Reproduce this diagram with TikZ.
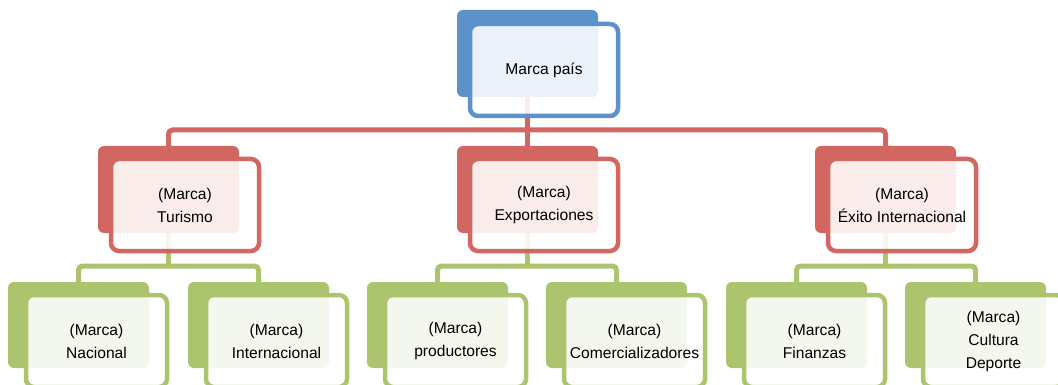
\documentclass[tikz,border=0pt]{standalone}
\usepackage{fontspec}
\setmainfont{Liberation Sans}
\definecolor{mblue}{RGB}{93,145,203}
\definecolor{mred}{RGB}{209,103,96}
\definecolor{mgreen}{RGB}{172,196,110}
\pgfdeclarelayer{links}
\pgfsetlayers{links,main}
\begin{document}
\begin{tikzpicture}[x=1pt,y=-1pt,
  backbox/.style={draw=none, fill=#1, rounded corners=6pt, inner sep=0pt,
    outer sep=0pt, minimum width=141pt, minimum height=87pt, anchor=north west},
  frontbox/.style={draw=#1, line width=4.5pt, fill=white, fill opacity=0.88,
    text opacity=1, rounded corners=8pt, inner sep=0pt, outer sep=0pt,
    minimum width=148pt, minimum height=92pt, anchor=north west, align=center,
    font=\fontsize{15.6pt}{23pt}\selectfont},
  leafbox/.style={frontbox=#1, minimum width=141pt},
  redline/.style={draw=mred, line width=5pt, rounded corners=4pt},
  greenline/.style={draw=mgreen, line width=5pt, rounded corners=4pt}]
\useasboundingbox (0,0) rectangle (1058,385);
\clip (0,0) rectangle (1058,385);

% junction points of the connector buses
\coordinate (rbus) at (527.5,130);
\coordinate (gbus1) at (168.5,266);
\coordinate (gbus2) at (527.5,266);
\coordinate (gbus3) at (885.5,266);

% back tiles (solid colour)
\node[backbox=mblue] (b0) at (457,10) {};
\node[backbox=mred] (b1) at (98,146) {};
\node[backbox=mred] (b2) at (457,146) {};
\node[backbox=mred] (b3) at (815,146) {};
\node[backbox=mgreen, minimum height=86pt] (c1) at (8,282) {};
\node[backbox=mgreen, minimum height=86pt] (c2) at (188,282) {};
\node[backbox=mgreen, minimum height=86pt] (c3) at (367,282) {};
\node[backbox=mgreen, minimum height=86pt] (c4) at (546,282) {};
\node[backbox=mgreen, minimum height=86pt] (c5) at (726,282) {};
\node[backbox=mgreen, minimum height=86pt] (c6) at (905,282) {};

% connectors, kept underneath the tiles
\begin{pgfonlayer}{links}
  \draw[redline] (b0.center) -- (rbus);
  \draw[redline] (b1.center) |- (rbus) -| (b3.center);
  \draw[redline] (rbus) -- (b2.center);
  \draw[greenline] (b1.center) -- (gbus1);
  \draw[greenline] (c1.center) |- (gbus1) -| (c2.center);
  \draw[greenline] (b2.center) -- (gbus2);
  \draw[greenline] (c3.center) |- (gbus2) -| (c4.center);
  \draw[greenline] (b3.center) -- (gbus3);
  \draw[greenline] (c5.center) |- (gbus3) -| (c6.center);
\end{pgfonlayer}

% front tiles with the labels
\node[frontbox=mblue] (f0) at (470,24) {Marca país};
\node[frontbox=mred] (f1) at (111,159) {(Marca)\\Turismo};
\node[frontbox=mred] (f2) at (470,159) {(Marca)\\Exportaciones};
\node[frontbox=mred] (f3) at (828,159) {(Marca)\\Éxito Internacional};
\node[leafbox=mgreen] (g1) at (26,295) {(Marca)\\Nacional};
\node[leafbox=mgreen] (g2) at (206,295) {(Marca)\\Internacional};
\node[leafbox=mgreen] (g3) at (385,295) {(Marca)\\productores};
\node[leafbox=mgreen] (g4) at (564,295) {(Marca)\\Comercializadores};
\node[leafbox=mgreen] (g5) at (744,295) {(Marca)\\Finanzas};
\node[leafbox=mgreen] (g6) at (923,295) {(Marca)\\Cultura\\Deporte};
\end{tikzpicture}
\end{document}
